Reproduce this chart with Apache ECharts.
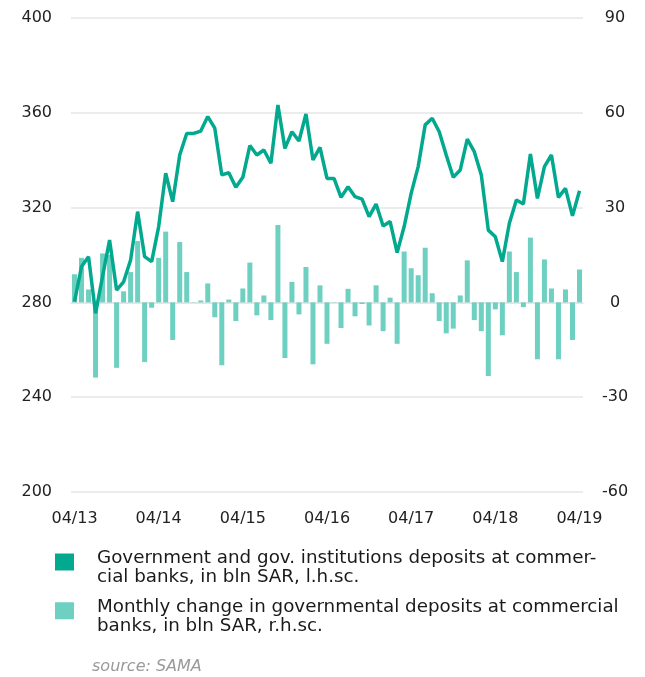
<!DOCTYPE html>
<html>
<head>
<meta charset="utf-8">
<script src="https://cdn.jsdelivr.net/npm/echarts@6/dist/echarts.min.js"></script>
<style>
html,body{margin:0;padding:0;background:#fff;}
#c{width:645px;height:677px;}
</style>
</head>
<body>
<div id="c"></div>
<script>
// Categories: monthly, 04/13 .. 04/19
var months = [];
for (var y = 13; y <= 19; y++) {
  for (var m = 1; m <= 12; m++) {
    if ((y === 13 && m < 4) || (y === 19 && m > 4)) continue;
    months.push((m < 10 ? '0' + m : '' + m) + '/' + y);
  }
}
var depositsLevel = [
280.3, 295.1, 299.3, 275.4, 291, 306.3, 285.2, 288.7, 297.9, 318.3,
299.3, 297.2, 312, 334.5, 322.5, 342.2, 351.3, 351.3, 352.3, 358.4,
353.5, 333.8, 334.7, 328.6, 332.8, 346.2, 342.2, 344.3, 338.7, 363.3,
345, 352, 348.1, 359.5, 340.1, 345.4, 332.3, 332.3, 324.3, 328.8,
324.6, 323.6, 316.2, 321.5, 312.2, 314.1, 301, 312, 326, 337.3,
354.9, 357.7, 352, 342.2, 332.8, 335.9, 348.9, 343.6, 333.8, 310.5,
307.7, 297.2, 313.4, 323.2, 321.5, 342.6, 323.9, 337.3, 342.2, 324.3,
328.1, 316.5, 327.1];
var monthlyChange = [
8.9, 14.1, 4.1, -23.8, 15.5, 15, -20.7, 3.5, 9.6, 19.4,
-18.9, -1.7, 14.1, 22.4, -11.9, 19.1, 9.6, 0.1, 0.6, 6,
-4.7, -19.9, 0.9, -5.9, 4.4, 12.6, -4.1, 2.2, -5.6, 24.5,
-17.6, 6.5, -3.8, 11.2, -19.6, 5.4, -13.1, 0.1, -8.1, 4.3,
-4.4, -0.5, -7.3, 5.4, -9.1, 1.5, -13.1, 16.1, 10.8, 8.6,
17.3, 2.9, -5.9, -9.8, -8.3, 2.2, 13.3, -5.6, -9.1, -23.3,
-2.2, -10.4, 16.1, 9.6, -1.5, 20.5, -18, 13.6, 4.4, -18,
4.1, -11.9, 10.4];

var nameLine = 'Government and gov. institutions deposits at commercial banks, in bln SAR, l.h.sc.';
var nameBar = 'Monthly change in governmental deposits at commercial banks, in bln SAR, r.h.sc.';
var legendLines = {};
legendLines[nameLine] = ['Government and gov. institutions deposits at commer-', 'cial banks, in bln SAR, l.h.sc.'];
legendLines[nameBar] = ['Monthly change in governmental deposits at commercial', 'banks, in bln SAR, r.h.sc.'];

var FONT = 'DejaVu Sans';
var chart = echarts.init(document.getElementById('c'));
chart.setOption({
  animation: false,
  textStyle: {fontFamily: FONT},
  grid: {left: 71, right: 62, top: 18, bottom: 185},
  legend: {
    orient: 'vertical',
    left: 55, top: 542,
    padding: 0,
    itemWidth: 19, itemHeight: 17, itemGap: 4,
    icon: 'rect',
    data: [nameLine, nameBar],
    formatter: function (n) {
      var l = legendLines[n];
      return '{s| }\n{t|' + l[0] + '}\n{t|' + l[1] + '}';
    },
    textStyle: {
      fontFamily: FONT, fontSize: 18.3, color: '#1a1a1a', padding: [0, 0, 0, 18],
      rich: {
        s: {fontSize: 1, lineHeight: 12},
        t: {fontFamily: FONT, fontSize: 18.3, lineHeight: 19.5, color: '#1a1a1a'}
      }
    }
  },
  graphic: [{
    type: 'text', left: 92, top: 659,
    style: {text: 'source: SAMA', fontFamily: FONT, fontStyle: 'italic', fontSize: 16, fill: '#9a9a9a'}
  }],
  xAxis: {
    type: 'category',
    data: months,
    boundaryGap: true,
    axisLine: {lineStyle: {color: '#e3e3e3', width: 1.5}},
    axisTick: {interval: 11, length: 6, lineStyle: {color: '#e3e3e3', width: 1.5}},
    axisLabel: {interval: 11, margin: 19, fontSize: 16, color: '#222', fontFamily: FONT}
  },
  yAxis: [{
    type: 'value', min: 200, max: 400, interval: 40,
    axisLine: {show: false}, axisTick: {show: false},
    axisLabel: {margin: 19, fontSize: 16, color: '#222', fontFamily: FONT},
    splitLine: {lineStyle: {color: '#e6e6e6', width: 1.5}}
  }, {
    type: 'value', min: -60, max: 90, interval: 30,
    axisLine: {show: false}, axisTick: {show: false},
    axisLabel: {margin: 32, align: 'center', fontSize: 16, color: '#222', fontFamily: FONT},
    splitLine: {show: false}
  }],
  series: [{
    name: nameBar,
    type: 'bar',
    yAxisIndex: 1,
    data: monthlyChange,
    barWidth: 5,
    itemStyle: {color: '#6dd0c1'},
    z: 1
  }, {
    name: nameLine,
    type: 'line',
    yAxisIndex: 0,
    data: depositsLevel,
    symbol: 'none',
    lineStyle: {color: '#02a98f', width: 3.5},
    itemStyle: {color: '#02a98f'},
    z: 3
  }]
});
</script>
</body>
</html>
